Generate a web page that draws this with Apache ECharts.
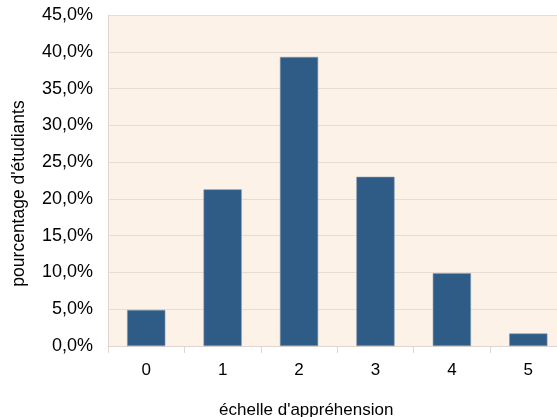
<!DOCTYPE html>
<html><head><meta charset="utf-8">
<script src="https://cdn.jsdelivr.net/npm/echarts@6/dist/echarts.min.js"></script>
<style>html,body{margin:0;padding:0;background:#fff}#c{width:557px;height:417px}</style>
</head><body><div id="c"></div>
<script>
const categories = ['0','1','2','3','4','5'];
const values = [4.9, 21.3, 39.3, 23.0, 9.9, 1.7];
const yTicks = [0,5,10,15,20,25,30,35,40,45];
const chart = echarts.init(document.getElementById('c'), null, {renderer:'canvas'});
const font = 'Liberation Sans, Arial, sans-serif';
chart.setOption({
  animation:false,
  backgroundColor:'#ffffff',
  grid:{left:108, right:-9.5, top:15, bottom:71, show:true, backgroundColor:'#fdf2e8', borderWidth:0,
    containLabel:false, outerBoundsMode:'none'},
  xAxis:{type:'category', data:categories, name:"échelle d'appréhension", nameLocation:'middle', nameGap:56,
    nameTextStyle:{fontFamily:font, fontSize:17, color:'#000', padding:[0,62,0,0]},
    axisLine:{show:true, lineStyle:{color:'#e0d6cf'}},
    axisTick:{show:true, length:7, lineStyle:{color:'#e0d6cf'}},
    axisLabel:{fontFamily:font, fontSize:17, color:'#000', margin:16}},
  yAxis:{type:'value', min:0, max:45, interval:5, name:"pourcentage d'étudiants", nameLocation:'middle', nameGap:80,
    nameTextStyle:{fontFamily:font, fontSize:17.5, color:'#000', padding:[0,26,0,0]},
    axisLine:{show:true, lineStyle:{color:'#e0d6cf'}},
    axisTick:{show:false},
    splitLine:{lineStyle:{color:'#e8ddd5'}},
    axisLabel:{fontFamily:font, fontSize:18, color:'#000', margin:15,
      formatter:v=>v.toFixed(1).replace('.',',')+'%'}},
  series:[{type:'bar', data:values, barWidth:'50%',
    itemStyle:{color:'#2f5b87', borderColor:'#7f97b0', borderWidth:0.6}}]
});
</script></body></html>
